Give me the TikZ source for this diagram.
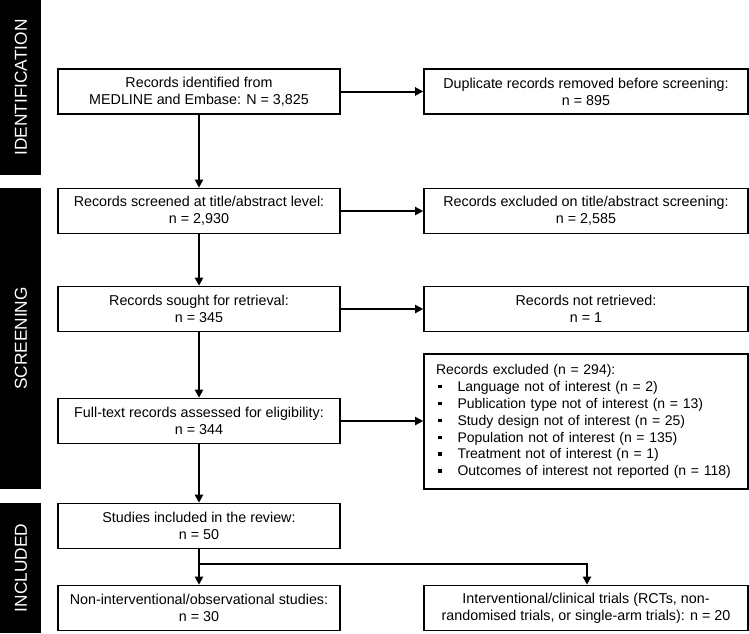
\documentclass[tikz,border=0pt]{standalone}
\usepackage{fontspec}
\setmainfont{Liberation Sans}
\usetikzlibrary{arrows.meta}
\newcommand{\exitem}[1]{\mbox{\hspace*{2pt}\rule[3pt]{3.5pt}{3.5pt}\hspace{16pt}#1}}
\begin{document}
\begin{tikzpicture}[x=1pt,y=-1pt,
  box/.style={draw=black,line width=1.6pt,rectangle,inner sep=0pt,align=center,
    font=\fontsize{14.3}{17}\selectfont},
  lbox/.style={box,minimum width=282pt,minimum height=45pt},
  rbox/.style={box,minimum width=324pt,minimum height=45pt},
  bar/.style={fill=black,draw=none},
  barlabel/.style={text=white,rotate=90,font=\fontsize{17.3}{20}\selectfont,inner sep=0pt},
  conn/.style={line width=2pt,-{Triangle[length=8pt,width=8pt]}},
  plain/.style={line width=2pt}]
\useasboundingbox (0,0) rectangle (749,633);
% phase bars
\fill[bar] (0,0) rectangle (41,175);
\fill[bar] (0,188) rectangle (41,489);
\fill[bar] (0,503) rectangle (41,633);
\node[barlabel] (lid) at (21,87.5) {IDENTIFICATION};
\node[barlabel] (lsc) at (21,338.5) {SCREENING};
\node[barlabel] (lin) at (21,568) {INCLUDED};
% left boxes
\node[lbox] (b1) at (199,91.5) {Records identified from\\MEDLINE and Embase: N = 3,825};
\node[lbox] (b2) at (199,211) {Records screened at title/abstract level:\\n = 2,930};
\node[lbox] (b3) at (199,309) {Records sought for retrieval:\\n = 345};
\node[lbox] (b4) at (199,421) {Full-text records assessed for eligibility:\\n = 344};
\node[lbox] (b5) at (199,526) {Studies included in the review:\\n = 50};
\node[lbox] (b6) at (199,608) {Non-interventional/observational studies:\\n = 30};
% right boxes
\node[rbox] (r1) at (586,91.5) {Duplicate records removed before screening:\\n = 895};
\node[rbox] (r2) at (586,211) {Records excluded on title/abstract screening:\\n = 2,585};
\node[rbox] (r3) at (586,309) {Records not retrieved:\\n = 1};
\node[rbox,minimum height=135pt,align=left,text width=300pt,inner xsep=12pt,
  font=\fontsize{14}{16.9}\selectfont] (r4) at (586,421.5) {Records excluded (n = 294):\\
\exitem{Language not of interest (n = 2)}\\
\exitem{Publication type not of interest (n = 13)}\\
\exitem{Study design not of interest (n = 25)}\\
\exitem{Population not of interest (n = 135)}\\
\exitem{Treatment not of interest (n = 1)}\\
\exitem{Outcomes of interest not reported (n = 118)}};
\node[rbox] (r6) at (586,608) {Interventional/clinical trials (RCTs, non-\\randomised trials, or single-arm trials): n = 20};
% connectors
\draw[conn] (b1) -- (b2);
\draw[conn] (b2) -- (b3);
\draw[conn] (b3) -- (b4);
\draw[conn] (b4) -- (b5);
\draw[conn] (b1) -- (r1);
\draw[conn] (b2) -- (r2);
\draw[conn] (b3) -- (r3);
\draw[conn] (b4.east) -- (r4.west |- b4.east);
\coordinate (sp) at (199,564);
\coordinate (sr) at (587,564);
\draw[plain] (b5) -- (sp);
\draw[conn] (sp) -- (b6);
\draw[plain,line cap=rect] (sp) -- (sr);
\draw[conn] (sr) -- (r6.north -| sr);
\end{tikzpicture}
\end{document}
